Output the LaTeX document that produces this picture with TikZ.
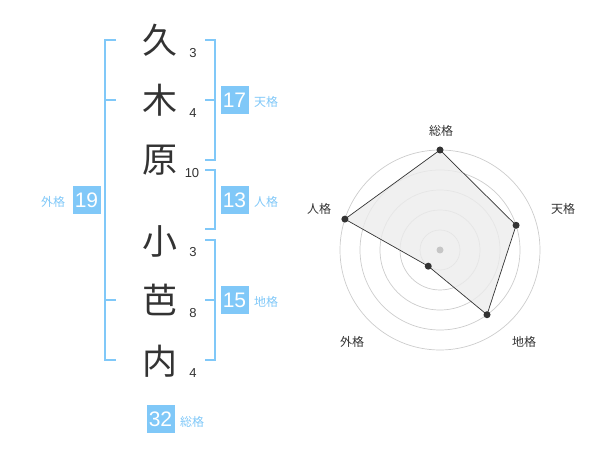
\documentclass[tikz,border=0pt]{standalone}
\usepackage{fontspec}
\usetikzlibrary{calc}
\setmainfont{Liberation Sans}
\newfontfamily\jp{Noto Sans CJK JP}
\definecolor{kb}{HTML}{80C8F8}
\definecolor{ink}{HTML}{333333}
\begin{document}
\begin{tikzpicture}[x=1pt,y=-1pt,
  kanji/.style={text=ink,inner sep=0,font=\jp\fontsize{35}{35}\selectfont},
  strk/.style={text=ink,inner sep=0,font=\fontsize{13}{13}\selectfont},
  kbox/.style={fill=kb,text=white,minimum size=28pt,inner sep=0,font=\fontsize{21}{21}\selectfont},
  klabel/.style={text=kb,inner sep=0,font=\jp\fontsize{12}{12}\selectfont},
  brk/.style={draw=kb,line width=2pt},
  ring/.style={draw=gray!40,line width=0.7pt},
  rlabel/.style={text=ink,inner sep=0,font=\jp\fontsize{12}{12}\selectfont},
  dot/.style={circle,fill=ink,inner sep=0,minimum size=7pt}]
\useasboundingbox (0,0) rectangle (600,470);
% kanji
\node[kanji] (k1) at (160,40) {久};
\node[kanji] (k2) at (160,100) {木};
\node[kanji] (k3) at (160,160) {原};
\node[kanji] (k4) at (160,241) {小};
\node[kanji] (k5) at (160,300) {芭};
\node[kanji] (k6) at (160,361) {内};
% stroke counts
\node[strk] (s1) at (193,53) {3};
\node[strk] (s2) at (193,113) {4};
\node[strk] (s3) at (192,173) {10};
\node[strk] (s4) at (193,252) {3};
\node[strk] (s5) at (193,313) {8};
\node[strk] (s6) at (193,373) {4};
% brackets
\draw[brk] (116,40) -- (105,40) -- (105,360) -- (116,360);
\draw[brk] (105,100) -- (116,100);
\draw[brk] (105,300) -- (116,300);
\draw[brk] (205,40) -- (215,40) -- (215,160) -- (205,160);
\draw[brk] (205,100) -- (215,100);
\draw[brk] (205,170) -- (215,170) -- (215,229) -- (205,229);
\draw[brk] (205,240) -- (215,240) -- (215,360) -- (205,360);
\draw[brk] (205,300) -- (215,300);
% boxes
\node[kbox] (b19) at (86.5,200) {19};
\node[kbox] (b17) at (234.5,100) {17};
\node[kbox] (b13) at (234.5,200) {13};
\node[kbox] (b15) at (234.5,300) {15};
\node[kbox] (b32) at (160.5,419) {32};
\node[klabel] (l19) at (53,202) {外格};
\node[klabel] (l17) at (266,102) {天格};
\node[klabel] (l13) at (266,202) {人格};
\node[klabel] (l15) at (266,302) {地格};
\node[klabel] (l32) at (192,422) {総格};
% radar
\coordinate (c) at (440,250);
\foreach \r in {20,40,60,80,100} \draw[ring] (c) circle (\r);
\coordinate (p1) at ($(c)+(-90:100)$);
\coordinate (p2) at ($(c)+(-18:80)$);
\coordinate (p3) at ($(c)+(54:80)$);
\coordinate (p4) at ($(c)+(126:20)$);
\coordinate (p5) at ($(c)+(198:100)$);
\draw[fill=gray!15,fill opacity=0.8,draw=ink,line width=0.7pt] (p1) -- (p2) -- (p3) -- (p4) -- (p5) -- cycle;
\fill[gray!45] (c) circle (3.5);
\foreach \i in {1,...,5} \node[dot] (d\i) at (p\i) {};
\node[rlabel] (r1) at (441,131) {総格};
\node[rlabel] (r2) at (563,209) {天格};
\node[rlabel] (r3) at (524,342) {地格};
\node[rlabel] (r4) at (352,342) {外格};
\node[rlabel] (r5) at (319,209) {人格};
\end{tikzpicture}
\end{document}
